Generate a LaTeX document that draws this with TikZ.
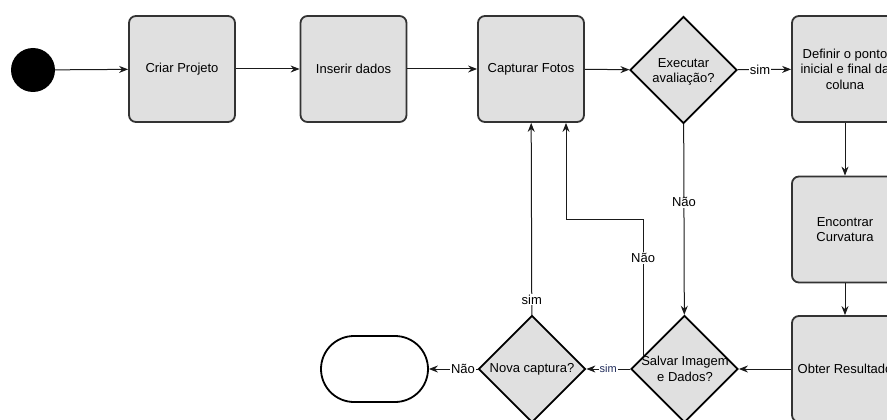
\documentclass[tikz,border=0pt]{standalone}
\usepackage{fontspec}
\setmainfont{Liberation Sans}
\usetikzlibrary{shapes.geometric,arrows.meta,calc}
\definecolor{boxfill}{HTML}{E0E0E0}
\definecolor{boxline}{HTML}{333333}
\definecolor{wire}{HTML}{1A1A1A}
\definecolor{smallink}{HTML}{1E2A5A}
\tikzset{
  x=1pt, y=-1pt,
  txt/.style={font=\fontsize{13}{15.5}\selectfont, text=black},
  stepbox/.style={draw=boxline, fill=boxfill, line width=1.8pt, rounded corners=7pt,
    minimum width=106pt, minimum height=106pt, align=center, txt},
  decision/.style={draw=black, fill=boxfill, line width=1.8pt, diamond, aspect=1,
    minimum width=107pt, minimum height=107pt, inner sep=0pt},
  inside/.style={txt, align=center},
  arr/.style={draw=wire, line width=1pt, -{Stealth[length=9pt,width=7pt]}},
  lbl/.style={fill=white, inner sep=1pt, txt},
  smalllbl/.style={fill=white, inner sep=1pt, font=\fontsize{11}{13}\selectfont, text=smallink},
}
\begin{document}
\begin{tikzpicture}
\useasboundingbox (0,0) rectangle (887,420);
\clip (0,0) rectangle (887,420);

% start marker
\node[circle, fill=black, minimum size=44pt, inner sep=0pt] (start) at (33,70) {};

% top row
\node[stepbox] (criar) at (182,69) {Criar Projeto};
\node[stepbox] (inserir) at (353.5,69) {Inserir dados};
\node[stepbox] (capturar) at (531,69) {Capturar Fotos};
\node[decision] (executar) at (683.5,70) {};
\node[inside] (executarT) at (683.5,72) {Executar\\avaliação?};
\node[stepbox] (definir) at (845,69) {Definir o ponto\\inicial e final da\\coluna};

% right column
\node[stepbox] (encontrar) at (845,229.5) {Encontrar\\Curvatura};
\node[stepbox] (obter) at (845,369) {Obter Resultado};

% bottom row
\node[decision] (salvar) at (684.5,369) {};
\node[inside] (salvarT) at (685,369) {Salvar Imagem\\e Dados?};
\node[decision] (nova) at (532,369) {};
\node[inside] (novaT) at (nova.center) {Nova captura?};
\node[draw=black, fill=white, line width=1.8pt, rounded corners=33pt,
      minimum width=107pt, minimum height=66pt] (fim) at (374.5,369) {};

% main flow
\draw[arr] (start) -- (criar);
\draw[arr] (criar) -- (inserir);
\draw[arr] (inserir) -- (capturar);
\draw[arr] (capturar) -- (executar);
\draw[arr] (executar) -- node[lbl, pos=0.42] (simA) {sim} (definir);
\draw[arr] (definir) -- (encontrar);
\draw[arr] (encontrar) -- (obter);
\draw[arr] (obter) -- (salvar);
\draw[arr] (executar) -- node[lbl, pos=0.41] (naoA) {Não} (salvar);
\draw[arr] (salvar) -- node[smalllbl, pos=0.5] (simB) {sim} (nova);
\draw[arr] (nova) -- node[lbl, pos=0.3] (naoB) {Não} (fim);
\draw[arr] (nova) -- node[lbl, pos=0.08] (simC) {sim} (capturar);

% loop back when the image is not saved
\coordinate (salvarExit) at ($(salvar.north)!0.76!(salvar.west)$);
\coordinate (loopBend) at (566,219);
\draw[arr] (salvarExit) |- (loopBend) -- (loopBend |- capturar.south);
\node[lbl] (naoC) at (salvarExit |- 0,258) {Não};
\end{tikzpicture}
\end{document}
